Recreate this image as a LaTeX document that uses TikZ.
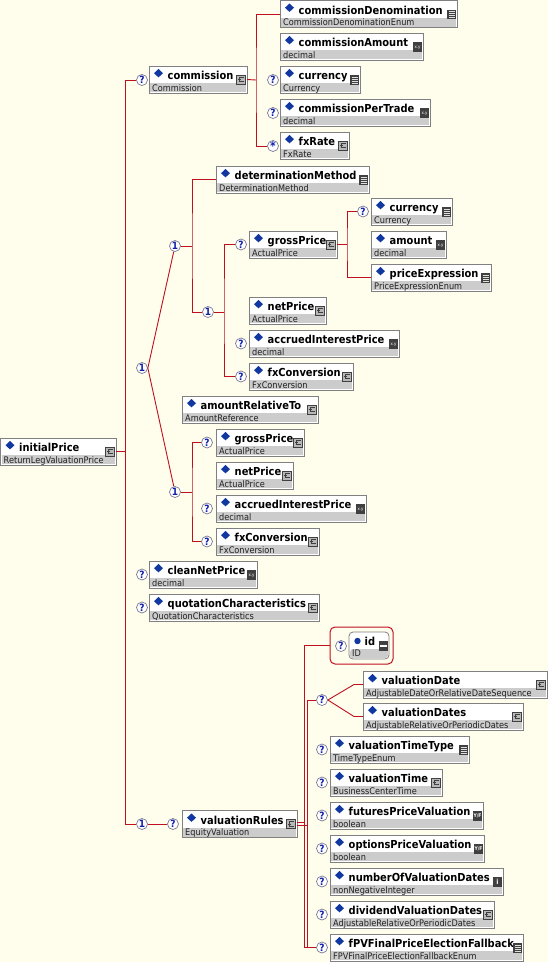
\documentclass[tikz,border=0pt]{standalone}
\usepackage{fontspec}
\setmainfont{DejaVu Sans}[FakeStretch=0.9]
\definecolor{bg}{RGB}{255,253,236}
\definecolor{linkred}{RGB}{192,16,32}
\definecolor{boxgray}{RGB}{128,128,128}
\definecolor{band}{RGB}{204,204,204}
\definecolor{dmblue}{RGB}{16,56,160}
\definecolor{occblue}{RGB}{16,32,170}
\definecolor{occline}{RGB}{120,120,150}
\definecolor{icondark}{RGB}{64,64,64}
\definecolor{iconlight}{RGB}{184,184,184}
\definecolor{typetext}{RGB}{32,32,32}

\newcommand\titlefont{\bfseries\fontsize{11}{13}\selectfont}
\newcommand\typefont{\fontsize{9.1}{11}\selectfont}

% type icons, drawn at the right edge of an element box: #1 right x, #2 top y, #3 element name
\newcommand\icoC[3]{%
  \filldraw[fill=iconlight, draw=icondark, line width=0.5pt] (#1-10.5,#2+9) rectangle (#1-1.5,#2+18);
  \draw[icondark, line width=0.7pt] (#1-3.5,#2+11.3) -- (#1-7.3,#2+11.3) -- (#1-7.3,#2+15.8) -- (#1-3.5,#2+15.8)
        (#1-8.6,#2+13.6) -- (#1-5.6,#2+13.6);
}
\newcommand\icoE[3]{%
  \fill[icondark] (#1-10,#2+9) rectangle (#1-1,#2+18.5);
  \draw[white!75!gray, line width=0.6pt] \foreach \k in {11,13,15,17} {(#1-8.5,#2+\k) -- (#1-2.5,#2+\k)};
}
\newcommand\icoX[3]{%
  \fill[icondark] (#1-10,#2+9) rectangle (#1-1,#2+18.5);
  \node[inner sep=0, text=white, font=\fontsize{4.4}{4.4}\selectfont] (#3-icon) at (#1-5.5,#2+14.5) {x.y};
}
\newcommand\icoB[3]{%
  \fill[icondark] (#1-10,#2+9) rectangle (#1-1,#2+18.5);
  \node[inner sep=0, text=white, font=\bfseries\fontsize{5}{5}\selectfont] (#3-icon) at (#1-5.5,#2+13.8) {Y/F};
}
\newcommand\icoI[3]{%
  \fill[icondark] (#1-10,#2+9) rectangle (#1-1,#2+18.5);
  \node[inner sep=0, text=white, font=\bfseries\fontsize{7}{7}\selectfont] (#3-icon) at (#1-5.5,#2+13.8) {i};
}

% element box: #1 name, #2 left x, #3 top y, #4 right x, #5 title, #6 type, #7 icon kind
\newcommand\elem[7]{%
  \pgfmathsetmacro\ew{#4-#2}%
  \node[elbox, minimum width=\ew pt] (#1) at (#2,#3) {};
  \fill[band] (#2+1,#3+17) rectangle (#4-1,#3+26.2);
  \fill[dmblue] (#2+9.5,#3+3) -- (#2+14,#3+7.2) -- (#2+9.5,#3+11.4) -- (#2+5,#3+7.2) -- cycle;
  \node[eltitle] (#1-name) at (#2+18.5,#3+13.5) {#5};
  \node[eltype] (#1-type) at (#2+3,#3+25) {#6};
  \csname ico#7\endcsname{#4}{#3}{#1}%
}
% occurrence marker
\newcommand\occ[4]{\node[occ] (#1) at (#2,#3) {#4};}

\begin{document}
\begin{tikzpicture}[x=1pt,y=-1pt,
  elbox/.style={rectangle, draw=boxgray, fill=white, line width=0.8pt, inner sep=0pt,
                outer sep=0pt, minimum height=27pt, anchor=north west},
  eltitle/.style={anchor=base west, inner sep=0pt, font=\titlefont, text=black},
  eltype/.style={anchor=base west, inner sep=0pt, font=\typefont, text=typetext},
  occ/.style={circle, draw=occline, fill=white, line width=0.7pt, minimum size=11pt,
              inner sep=0pt, font=\bfseries\fontsize{10}{10}\selectfont, text=occblue},
  conn/.style={draw=linkred, line width=0.9pt},
  idframe/.style={rectangle, draw=linkred, line width=1pt, rounded corners=5pt,
                  inner sep=0pt, outer sep=0pt, anchor=north west},
  idbox/.style={rectangle, draw=boxgray, fill=white, line width=0.8pt, rounded corners=4pt,
                inner sep=0pt, outer sep=0pt, anchor=north west}]

\fill[bg] (0,0) rectangle (548,962);
\useasboundingbox (0,0) rectangle (548,962);

% ---------- root ----------
\elem{initialPrice}{0.5}{438}{116}{initialPrice}{ReturnLegValuationPrice}{C}

% ---------- commission ----------
\occ{oComm}{142}{80}{?}
\elem{commission}{149}{66}{247}{commission}{Commission}{C}
\elem{cDenom}{280}{0.5}{457}{commissionDenomination}{CommissionDenominationEnum}{E}
\elem{cAmount}{280}{33}{423}{commissionAmount}{decimal}{X}
\occ{oCCur}{273}{80}{?}
\elem{cCurrency}{280}{66}{360}{currency}{Currency}{E}
\occ{oCPT}{273}{113}{?}
\elem{cPerTrade}{280}{99}{430}{commissionPerTrade}{decimal}{X}
\occ{oFx}{273}{146}{\raisebox{-3pt}{\fontsize{12}{12}\selectfont *}}
\elem{cFxRate}{280}{132}{349}{fxRate}{FxRate}{C}

\coordinate (jComm) at (256,80);
\draw[conn] (commission.east) -- (jComm);
\draw[conn] (cDenom.west) -| (jComm) |- (oFx.west);

% ---------- price choice ----------
\occ{chA}{142}{368}{1}
\occ{chB}{175}{246}{1}
\occ{chC}{175}{492}{1}
\draw[conn] (chA.east) -- (chB);
\draw[conn] (chA.east) -- (chC);

\elem{detMethod}{216}{166}{369}{determinationMethod}{DeterminationMethod}{E}
\occ{chD}{208}{312}{1}
\coordinate (jB) at (192,246);
\draw[conn] (chB.east) -- (jB);
\draw[conn] (detMethod.west) -| (jB) |- (chD.west);

\occ{oGP}{241}{244.5}{?}
\elem{grossPrice}{249}{231}{337}{grossPrice}{ActualPrice}{C}
\elem{netPrice}{249}{297}{326}{netPrice}{ActualPrice}{C}
\occ{oAIP}{241}{343.5}{?}
\elem{accrued}{249}{330}{399}{accruedInterestPrice}{decimal}{X}
\occ{oFXC}{241}{376.5}{?}
\elem{fxConv}{249}{363}{353}{fxConversion}{FxConversion}{C}
\coordinate (jD) at (224,312);
\draw[conn] (chD.east) -- (jD);
\draw[conn] (oGP.west) -| (jD) |- (oFXC.west);

\occ{oGPC}{363}{211.5}{?}
\elem{gpCurrency}{371}{198}{452}{currency}{Currency}{E}
\elem{gpAmount}{371}{231}{446}{amount}{decimal}{X}
\elem{gpExpr}{371}{264}{491}{priceExpression}{PriceExpressionEnum}{E}
\coordinate (jGP) at (347,244.5);
\draw[conn] (grossPrice.east) -- (jGP);
\draw[conn] (oGPC.west) -| (jGP) |- (gpExpr.west);

\elem{amtRel}{182}{396}{318}{amountRelativeTo}{AmountReference}{C}

\occ{oGP2}{207}{442.5}{?}
\elem{grossPrice2}{216}{429}{304}{grossPrice}{ActualPrice}{C}
\elem{netPrice2}{216}{462}{293}{netPrice}{ActualPrice}{C}
\occ{oAIP2}{207}{508.5}{?}
\elem{accrued2}{216}{495}{366}{accruedInterestPrice}{decimal}{X}
\occ{oFXC2}{207}{541.5}{?}
\elem{fxConv2}{216}{528}{319}{fxConversion}{FxConversion}{C}
\coordinate (jC) at (192,492);
\draw[conn] (chC.east) -- (jC);
\draw[conn] (oGP2.west) -| (jC) |- (oFXC2.west);

% ---------- further optional elements ----------
\occ{oCNP}{142}{574.5}{?}
\elem{cleanNet}{149}{561}{257}{cleanNetPrice}{decimal}{X}
\occ{oQC}{142}{607.5}{?}
\elem{quotChar}{149}{594}{319}{quotationCharacteristics}{QuotationCharacteristics}{C}

% ---------- valuation rules ----------
\occ{oVR1}{142}{824}{1}
\occ{oVR}{173}{824}{?}
\elem{valRules}{182}{810.5}{297}{valuationRules}{EquityValuation}{C}
\draw[conn] (oVR1.east) -- (oVR.west);

% spine of the root sequence
\coordinate (spTop) at (125,80);
\coordinate (spBot) at (125,824);
\draw[conn] (oComm.west) -- (spTop) -- (spBot) -- (oVR1.west);
\draw[conn] (initialPrice.east) -- (initialPrice.east -| spTop);

% id attribute
\node[idframe, minimum width=63pt, minimum height=37pt] (idFrame) at (330,627) {};
\occ{oId}{341}{646}{?}
\node[idbox, minimum width=40pt, minimum height=27pt] (idBox) at (349,632) {};
\fill[band, rounded corners=2.5pt] (350.2,649) rectangle (387.8,658);
\fill[dmblue] (357.5,641) circle (3.2);
\node[eltitle] (idName) at (364.5,645) {id};
\node[eltype] (idType) at (352,656.5) {ID};
\fill[icondark] (379,641) rectangle (388,651);
\draw[white, line width=1.3pt] (380.3,646) -- (386.7,646);

% valuation date choice
\occ{oVC}{322}{700}{?}
\elem{valDate}{363}{671}{547}{valuationDate}{AdjustableDateOrRelativeDateSequence}{C}
\elem{valDates}{363}{703}{523}{valuationDates}{AdjustableRelativeOrPeriodicDates}{C}
\draw[conn] (oVC.east) -- ([xshift=-9pt]valDate.west) -- (valDate.west);
\draw[conn] (oVC.east) -- ([xshift=-9pt]valDates.west) -- (valDates.west);

\occ{oVTT}{322}{749.5}{?}
\elem{valTimeType}{330}{736}{469}{valuationTimeType}{TimeTypeEnum}{E}
\occ{oVT}{322}{782.5}{?}
\elem{valTime}{330}{769}{442}{valuationTime}{BusinessCenterTime}{C}
\occ{oFutPV}{322}{815.5}{?}
\elem{futPV}{330}{802}{483}{futuresPriceValuation}{boolean}{B}
\occ{oOptPV}{322}{848.5}{?}
\elem{optPV}{330}{835}{484}{optionsPriceValuation}{boolean}{B}
\occ{oNVD}{322}{881.5}{?}
\elem{numVD}{330}{868}{503}{numberOfValuationDates}{nonNegativeInteger}{I}
\occ{oDVD}{322}{914.5}{?}
\elem{divVD}{330}{901}{494}{dividendValuationDates}{AdjustableRelativeOrPeriodicDates}{C}
\occ{oFPV}{322}{947.5}{?}
\elem{fpvFallback}{330}{934}{523}{fPVFinalPriceElectionFallback}{FPVFinalPriceElectionFallbackEnum}{E}

% sequence bracket of valuationRules
\coordinate (vTop) at (304.5,645.5);
\coordinate (vBot) at (304.5,947.5);
\coordinate (vTop2) at (307,700);
\coordinate (vBot2) at (307,947.5);
\draw[conn] (idFrame.west) -- (vTop) -- (vBot) -- (oFPV.west);
\draw[conn] (oVC.west) -- (vTop2) -- (vBot2);
\draw[conn] ([yshift=1.2pt]valRules.east) -- ([yshift=1.2pt]valRules.east -| vTop);
\draw[conn] ([yshift=-1.2pt]valRules.east) -- ([yshift=-1.2pt]valRules.east -| vTop2);

\end{tikzpicture}
\end{document}
